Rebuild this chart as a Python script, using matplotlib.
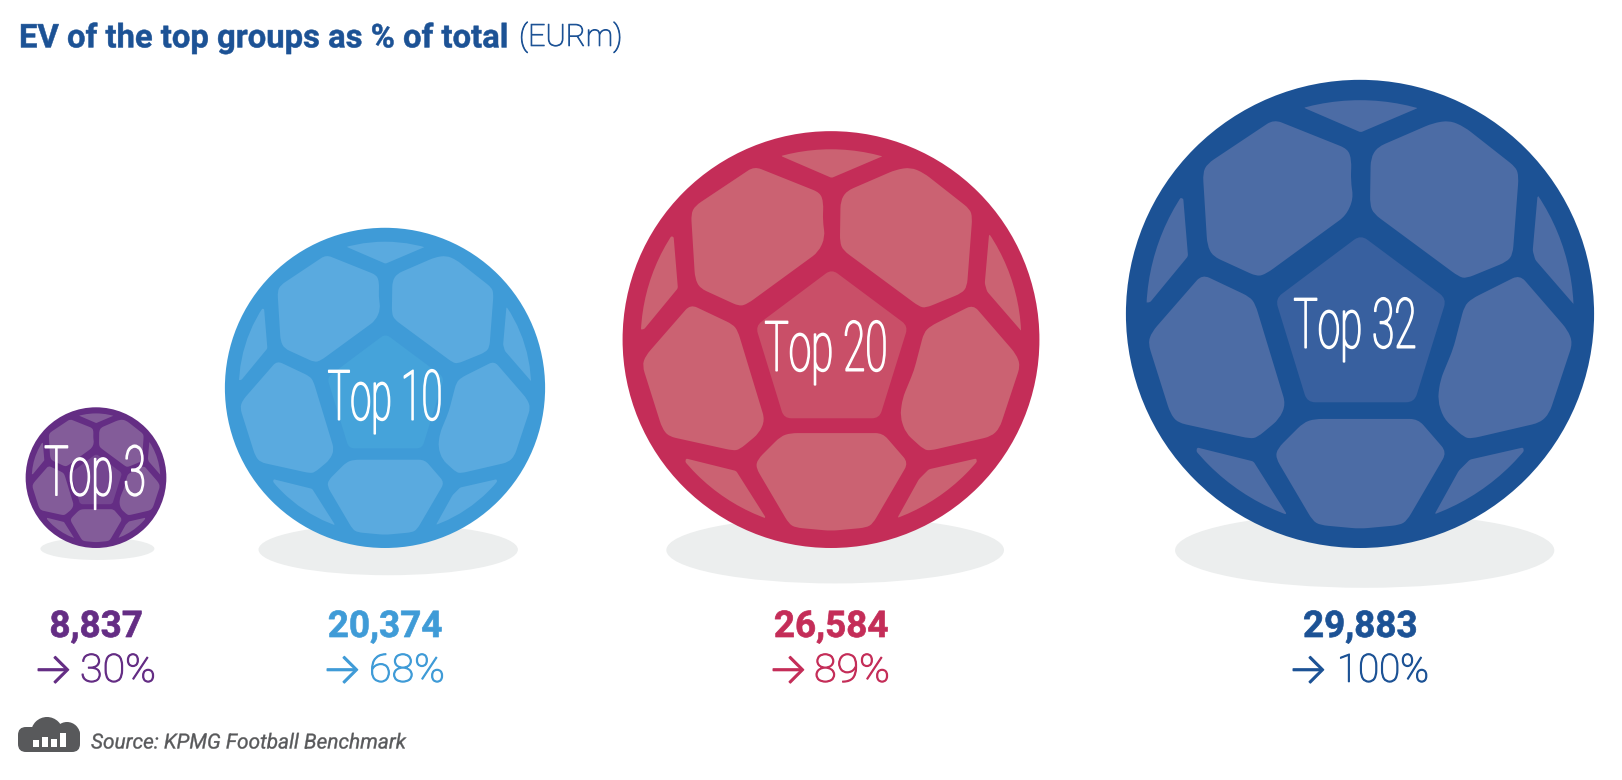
import numpy as np
import matplotlib
matplotlib.use('Agg')
import matplotlib.pyplot as plt
from matplotlib.patches import Circle, Ellipse, PathPatch, Rectangle, FancyBboxPatch
from matplotlib.path import Path
from matplotlib.patheffects import AbstractPathEffect
from matplotlib.transforms import Affine2D

# data
groups = ['Top 3', 'Top 10', 'Top 20', 'Top 32']
ev_eurm = [8837, 20374, 26584, 29883]
share_pct = [30, 68, 89, 100]

# layout, in pixels
ball_x = [96, 385, 831, 1360]
ball_bottom = 548
r_base = 1.6
px_per_eurm = 0.00778
label_xy = [(95, 476.5), (385, 401), (826, 352), (1355, 329)]
label_sx = [0.59, 0.545, 0.585, 0.585]
pct_left = [80, 369, 814, 1337]
pct_sx = [1.06, 1.06, 1.06, 0.99]
arrow_left = [33, 322, 768, 1288]

colours = ['#642D84', '#3F9BD7', '#C42D58', '#1C5295']
panel_colours = ['#835C99', '#5AAADF', '#CB6272', '#4C6CA5']
centre_colours = ['#744690', '#45A3DA', '#C94F68', '#38609F']
shadow_colour = '#ECEEEE'

# ball panels, centre (663, 681), radius 633
round_panels = [
    [(430, 155), (630, 235), (640, 265), (638, 320), (645, 370), (625, 415), (410, 572), (385, 580), (265, 525), (250, 495), (238, 300), (250, 275)],
    [(905, 158), (945, 175), (1085, 285), (1092, 310), (1076, 520), (1060, 540), (950, 585), (930, 580), (700, 410), (690, 385), (692, 260), (710, 230), (860, 165)],
    [(236, 574), (365, 635), (380, 655), (462, 925), (445, 965), (385, 1015), (365, 1018), (170, 975), (150, 950), (90, 760), (100, 730)],
    [(1095, 575), (965, 640), (945, 660), (915, 775), (880, 860), (873, 915), (890, 965), (945, 1015), (965, 1018), (1150, 975), (1175, 950), (1238, 760), (1225, 725)],
    [(540, 965), (820, 965), (898, 1055), (790, 1240), (770, 1252), (663, 1262), (555, 1252), (535, 1240), (435, 1070), (440, 1045), (510, 975)],
]
centre_panel = [(665, 467), (897, 640), (810, 920), (520, 920), (434, 640)]
edge_panels = [
    [(512, 124), (665, 190), (820, 124), (820, 60), (512, 60)],
    [(185, 368), (198, 525), (95, 650), (60, 650), (60, 368)],
    [(1143, 362), (1130, 510), (1137, 535), (1241, 655), (1280, 655), (1280, 362)],
    [(222, 1042), (375, 1080), (465, 1222), (200, 1300)],
    [(1105, 1042), (960, 1075), (930, 1105), (865, 1222), (1120, 1300)],
]


class Squeeze(AbstractPathEffect):
    # scales text sideways around a pixel column and fattens the thin Roboto strokes
    def __init__(self, x0=0, sx=1, lw=0.0):
        super().__init__()
        self.x0 = x0
        self.sx = sx
        self.lw = lw

    def draw_path(self, renderer, gc, tpath, affine, rgbFace=None):
        squeeze = Affine2D().translate(-self.x0, 0).scale(self.sx, 1).translate(self.x0, 0)
        gc0 = renderer.new_gc()
        gc0.copy_properties(gc)
        gc0.set_linewidth(self.lw)
        gc0.set_foreground(rgbFace)
        renderer.draw_path(gc0, tpath, affine + squeeze, rgbFace)
        gc0.restore()


def rounded(pts, cx, cy, r, d):
    pts = (np.array(pts, dtype=float) - [663, 681]) / 633 * r + [cx, cy]
    d = d * r
    verts, codes = [], []
    n = len(pts)
    for i in range(n):
        p, a, b = pts[i], pts[i - 1], pts[(i + 1) % n]
        la, lb = np.linalg.norm(a - p), np.linalg.norm(b - p)
        s = p + (a - p) / la * min(d, 0.45 * la)
        e = p + (b - p) / lb * min(d, 0.45 * lb)
        verts += [s, p, e]
        codes += [Path.MOVETO if i == 0 else Path.LINETO, Path.CURVE3, Path.CURVE3]
    verts.append(verts[0])
    codes.append(Path.CLOSEPOLY)
    return Path(verts, codes)


fig = plt.figure(figsize=(16.22, 7.8), dpi=100)
ax = fig.add_axes([0, 0, 1, 1])
ax.set_xlim(0, 1622)
ax.set_ylim(780, 0)
ax.axis('off')

for i in range(len(groups)):
    r = r_base + ev_eurm[i] * px_per_eurm
    cx = ball_x[i]
    cy = ball_bottom - r
    ax.add_patch(Ellipse((cx + 0.02 * r, ball_bottom + 0.01 * r), 1.62 * r, 0.32 * r, fc=shadow_colour, ec='none', zorder=1))
    ax.add_patch(Circle((cx, cy), r, fc=colours[i], ec='none', zorder=2))
    inner = Circle((cx, cy), r * 0.913, fc='none', ec='none', zorder=2)
    ax.add_patch(inner)
    for pts in round_panels:
        ax.add_patch(PathPatch(rounded(pts, cx, cy, r, 0.035), fc=panel_colours[i], ec='none', zorder=3))
    ax.add_patch(PathPatch(rounded(centre_panel, cx, cy, r, 0.035), fc=centre_colours[i], ec='none', zorder=3))
    for pts in edge_panels:
        p = PathPatch(rounded(pts, cx, cy, r, 0.008), fc=panel_colours[i], ec='none', zorder=3)
        ax.add_patch(p)
        p.set_clip_path(inner)

    lx, ly = label_xy[i]
    x0 = ax.transData.transform((lx, ly))[0]
    ax.text(lx, ly, groups[i], color='white', fontsize=50, family='Roboto', fontweight='light',
            ha='center', va='center', zorder=5, path_effects=[Squeeze(x0, label_sx[i], 1.1)])

    ax.text(cx, 627, f'{ev_eurm[i]:,}', color=colours[i], fontsize=26.5, family='Roboto', fontweight='bold',
            ha='center', va='center', zorder=5, path_effects=[Squeeze(lw=0.5)])
    ax.text(arrow_left[i], 672, '\u2192', color=colours[i], fontsize=30, family=['Inter', 'DejaVu Sans'],
            fontweight='light', ha='left', va='center', zorder=5, path_effects=[Squeeze(lw=1.0)])
    x1 = ax.transData.transform((pct_left[i], 0))[0]
    ax.text(pct_left[i], 671, f'{share_pct[i]}%', color=colours[i], fontsize=28, family='Roboto', fontweight='light',
            ha='left', va='center', zorder=5, path_effects=[Squeeze(x1, pct_sx[i], 0.8)])

# title
ax.text(19, 38, 'EV of the top groups as % of total', color='#1C5295', fontsize=23.6, family='Roboto',
        fontweight='bold', ha='left', va='center', path_effects=[Squeeze(lw=0.35)])
ax.text(519, 37, '(EURm)', color='#1C5295', fontsize=22, family='Roboto', fontweight='light', ha='left', va='center',
        path_effects=[Squeeze(lw=0.6)])

# source with the cloud icon
grey = '#58595B'
ax.add_patch(FancyBboxPatch((26, 735), 46, 9, boxstyle='round,pad=8', fc=grey, ec='none'))
ax.add_patch(Circle((47, 733), 16, fc=grey, ec='none'))
ax.add_patch(Circle((67, 735), 13, fc=grey, ec='none'))
for bx, top in zip([33, 42, 51, 60], [740, 737, 739, 733]):
    ax.add_patch(Rectangle((bx, top), 6, 747 - top, fc='white', ec='none'))
ax.text(91, 743, 'Source: KPMG Football Benchmark', color=grey, fontsize=15, family='Roboto', style='italic',
        ha='left', va='center', path_effects=[Squeeze(lw=0.25)])

fig.savefig('out.png', dpi=100)
